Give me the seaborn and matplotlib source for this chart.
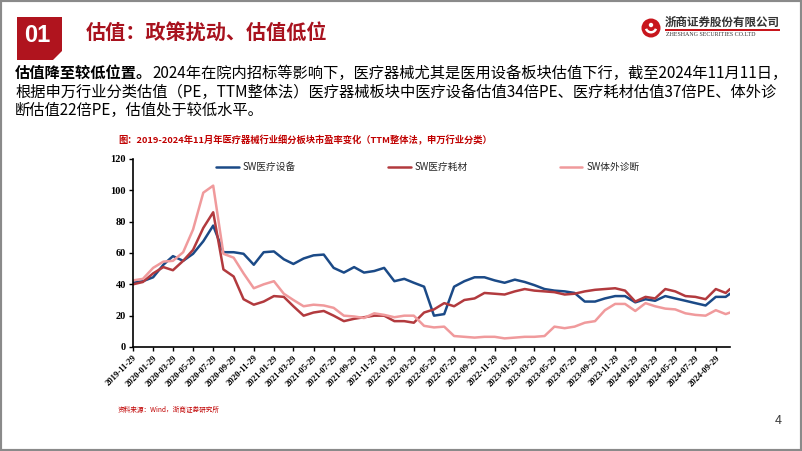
import pandas as pd
import matplotlib
matplotlib.use("Agg")
import matplotlib.pyplot as plt
import matplotlib.transforms as mtransforms
from matplotlib.patches import Polygon, Rectangle, Circle, Wedge
import seaborn as sns

# Monthly PE (TTM) by SW sub-sector, 2019-11-29 .. 2024-10-29, plus 2024-11-11
start = pd.Timestamp("2019-11-29")
dates = [start + pd.DateOffset(months=i) for i in range(60)] + [pd.Timestamp("2024-11-11")]

equipment = [41, 42, 44.5, 52.5, 58, 55, 59.5, 67.5, 77.5, 60.5,
             60.5, 59.5, 52.5, 60.5, 61, 56, 53, 56.5, 58.5, 59,
             50.5, 47.5, 51, 47.5, 48.5, 50.5, 42, 43.5, 41, 38.5,
             20, 21, 38.5, 42, 44.5, 44.5, 42.5, 41, 43, 41.5,
             39.5, 37, 36, 35.5, 34.5, 29, 29, 31, 32.5, 32.5,
             28.5, 30.5, 29.5, 32.5, 31, 29.5, 28, 26.5, 32, 32, 34]

consumables = [40, 41.5, 47, 51, 49, 55, 62, 76, 86, 49.5,
               45, 30.5, 27, 29, 32.5, 32, 26, 20, 22, 23,
               20, 16.5, 18, 19, 20, 20, 16.5, 16.5, 15.5, 22,
               24, 28, 26, 30, 31, 34.5, 34, 33.5, 35.5, 37,
               36, 35.5, 35, 33.5, 34, 35.5, 36.5, 37, 37.5, 36,
               29, 32, 31, 37, 35.5, 32.5, 32, 30.5, 37, 34.5, 37]

ivd = [42.5, 43.5, 50.5, 54.5, 55, 60.5, 75, 98.5, 103, 59.5,
       57, 47, 37.5, 40, 42, 34, 30, 26, 27, 26.5,
       25, 20, 19.5, 18.5, 21.5, 20.5, 19, 20, 20, 13.5,
       12.5, 13, 7, 6.5, 6, 6.5, 6.5, 5.5, 6, 6.5,
       6.5, 7, 13, 12, 13, 15.5, 16.5, 23.5, 27.5, 27.5,
       23, 28, 26, 24.5, 24, 21.5, 20.5, 20, 23.5, 21, 22]

series_names = ["SW医疗设备", "SW医疗耗材", "SW体外诊断"]
series_colors = ["#1b4a87", "#b23a3e", "#f09a9c"]

df = pd.DataFrame({"date": dates,
                   series_names[0]: equipment,
                   series_names[1]: consumables,
                   series_names[2]: ivd})
df_long = df.melt(id_vars="date", var_name="series", value_name="pe")

sns.set_style("ticks")
plt.rcParams["font.family"] = ["Noto Sans CJK SC", "DejaVu Sans"]

W, H = 802, 451
fig = plt.figure(figsize=(W / 100, H / 100), dpi=100)
fig.patch.set_facecolor("white")


def fx(x):
    return x / W


def fy(y):
    return 1 - y / H


RED = "#a8121e"

# slide frame
fig.add_artist(Rectangle((0, 0), 1, 1, transform=fig.transFigure, fill=False,
                         edgecolor="#8a8a8a", lw=3))

# section badge
badge = [(17, 17), (62, 17), (62, 51), (53, 60), (17, 60)]
fig.add_artist(Polygon([(fx(a), fy(b)) for a, b in badge], closed=True,
                       transform=fig.transFigure, facecolor="#b0141e", edgecolor="none"))
fig.text(fx(37), fy(36), "01", color="white", fontsize=17, fontweight="bold",
         family=["Liberation Sans", "DejaVu Sans"], ha="center", va="center")
fig.text(fx(86), fy(32), "估值：政策扰动、估值低位", color=RED, fontsize=14.5,
         fontweight="bold", ha="left", va="center")

# company logo
pix = mtransforms.IdentityTransform()
fig.add_artist(Circle((651, H - 28), 9.5, transform=pix, facecolor="#c8161d", edgecolor="none"))
fig.add_artist(Wedge((651, H - 27), 6.5, 200, 340, width=2.5, transform=pix,
                     facecolor="white", edgecolor="none"))
fig.add_artist(Circle((651, H - 25), 2.2, transform=pix, facecolor="white", edgecolor="none"))
fig.text(fx(665), fy(22), "浙商证券股份有限公司", color="#333333", fontsize=8.3,
         fontweight="bold", ha="left", va="center")
fig.add_artist(Rectangle((fx(665), fy(30.5)), fx(780) - fx(665), 1.2 / H,
                         transform=fig.transFigure, facecolor="#c8161d", edgecolor="none"))
fig.text(fx(666), fy(34.5), "ZHESHANG SECURITIES CO.LTD", color="#333333", fontsize=4.3,
         family=["Liberation Serif"], ha="left", va="center")

# paragraph
renderer = fig.canvas.get_renderer()
t0 = fig.text(fx(15), fy(73), "估值降至较低位置。", color="black", fontsize=11,
              fontweight="bold", ha="left", va="center")
x_end = t0.get_window_extent(renderer).x1
fig.text(x_end / W, fy(73),
         "2024年在院内招标等影响下，医疗器械尤其是医用设备板块估值下行，截至2024年11月11日，",
         color="black", fontsize=11, ha="left", va="center")
fig.text(fx(15), fy(92),
         "根据申万行业分类估值（PE，TTM整体法）医疗器械板块中医疗设备估值34倍PE、医疗耗材估值37倍PE、体外诊",
         color="black", fontsize=11, ha="left", va="center")
fig.text(fx(15), fy(110), "断估值22倍PE，估值处于较低水平。", color="black", fontsize=11,
         ha="left", va="center")

# chart title and source
fig.text(fx(118), fy(140),
         "图：2019-2024年11月年医疗器械行业细分板块市盈率变化（TTM整体法，申万行业分类）",
         color="#c00000", fontsize=6.7, fontweight="bold", ha="left", va="center")
fig.text(fx(118), fy(410), "资料来源：Wind，浙商证券研究所", color="#c00000",
         fontsize=4.8, ha="left", va="center")
fig.text(fx(778), fy(420), "4", color="#404040", fontsize=9, ha="center", va="center")

# chart
ax = fig.add_axes([fx(133), fy(347), fx(730) - fx(133), (347 - 159) / H])
sns.lineplot(data=df_long, x="date", y="pe", hue="series", hue_order=series_names,
             palette=series_colors, linewidth=1.8, ax=ax)

ax.set_xlim(dates[0], dates[-1])
ax.set_ylim(0, 120)
ax.set_yticks(range(0, 121, 20))
ax.set_yticklabels([str(v) for v in range(0, 121, 20)], fontsize=7.5, fontweight="bold",
                   family=["Liberation Serif"])
xticks = dates[0:59:2]
ax.set_xticks(xticks)
ax.set_xticklabels([d.strftime("%Y-%m-%d") for d in xticks], rotation=45, ha="right",
                   rotation_mode="anchor", fontsize=6.2, fontweight="bold",
                   family=["Liberation Serif"])
ax.set_xlabel("")
ax.set_ylabel("")
ax.tick_params(direction="out", length=3, width=1, colors="black", pad=2)
for side in ["top", "right"]:
    ax.spines[side].set_visible(False)
for side in ["left", "bottom"]:
    ax.spines[side].set_linewidth(1.2)
    ax.spines[side].set_color("black")
ax.set_facecolor("white")

handles, labels = ax.get_legend_handles_labels()
ax.legend(handles, labels, ncol=3, loc="center left", bbox_to_anchor=(0.125, 0.957),
          frameon=False, handlelength=2.3, columnspacing=9.5, handletextpad=0.4,
          prop={"size": 7})

fig.savefig("out.png", dpi=100)
